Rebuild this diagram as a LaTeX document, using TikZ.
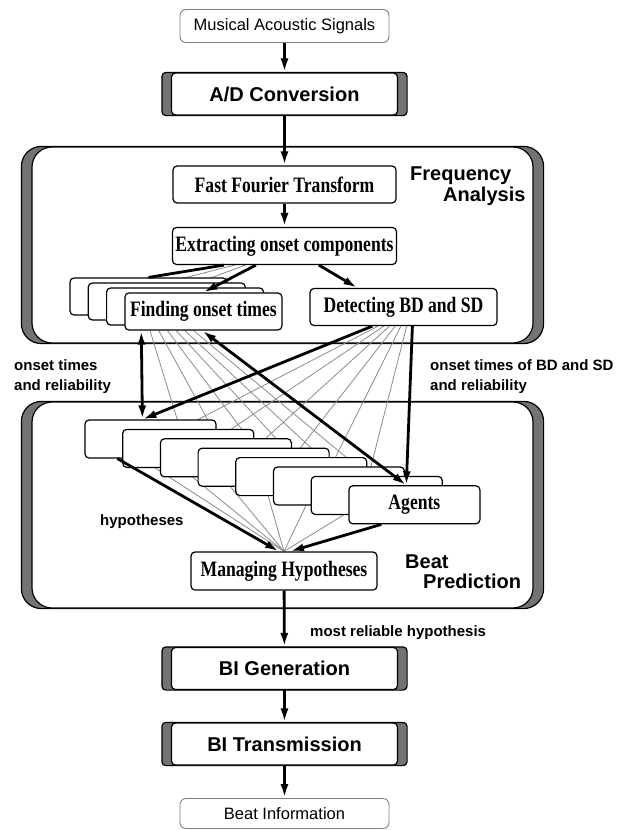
\documentclass[tikz,border=0pt]{standalone}
\usepackage{fontspec}
\setmainfont{Liberation Sans}
\newfontfamily\condserif[FakeStretch=0.8]{Liberation Serif}
\usetikzlibrary{arrows.meta,calc}
\pgfdeclarelayer{bars}
\pgfdeclarelayer{frames}
\pgfdeclarelayer{wires}
\pgfdeclarelayer{top}
\pgfsetlayers{bars,frames,wires,main,top}
\tikzset{
	endbox/.style={draw=black!50, line width=0.9pt, rounded corners=6pt, fill=white, minimum width=209pt, minimum height=33pt, inner sep=0pt, font=\fontsize{16.5}{19}\selectfont},
	procbox/.style={draw, line width=1.2pt, rounded corners=4pt, fill=white, minimum width=226pt, minimum height=42pt, inner sep=0pt, font=\fontsize{20}{24}\selectfont\bfseries},
	taskbox/.style={draw, line width=1.2pt, rounded corners=4pt, fill=white, minimum height=37pt, inner sep=0pt, font=\condserif\bfseries\fontsize{22}{26}\selectfont},
	groupbox/.style={draw, line width=1.2pt, rounded corners=20pt, fill=white, minimum width=501pt, inner sep=0pt},
	greybar/.style={draw, line width=1.2pt, fill=black!55},
	grouptitle/.style={inner sep=0pt, font=\fontsize{20}{24}\selectfont\bfseries},
	flowtag/.style={inner sep=0pt, font=\fontsize{15}{20}\selectfont\bfseries},
	flow/.style={line width=2.8pt},
	wire/.style={draw=black!45, line width=0.8pt}
}
\begin{document}
\begin{tikzpicture}[x=1pt,y=-1pt,>={Latex[length=14pt,width=8pt]}]
		\useasboundingbox (0,0) rectangle (636,830);
		\node at (284.5,26) [endbox] (signal) {Musical Acoustic Signals};
		\node at (284.5,94) [procbox] (ad) {A/D Conversion};
		\begin{pgfonlayer}{frames}
			\node at (282.5,245) [groupbox, minimum height=196pt] (freq) {};
			\node at (282.5,505) [groupbox, minimum height=206pt] (beat) {};
		\end{pgfonlayer}
		\node at (284.5,184.5) [taskbox, minimum width=223pt] (fft) {Fast Fourier Transform};
		\node at (284.5,246) [taskbox, minimum width=224pt] (extract) {Extracting onset components};
		\foreach \k in {0,1,2}
			\node at ({148.5+18.3*\k},{296.5+5*\k}) [taskbox, minimum width=157pt] (f\k) {};
		\node at (203.4,311.5) [taskbox, minimum width=157pt] (f3) {Finding onset times};
		\node at (403.5,307) [taskbox, minimum width=187pt] (detect) {Detecting BD and SD};
		\node[grouptitle, anchor=base west] at (410,180.5) (freqA) {Frequency};
		\node[grouptitle, anchor=base west] at (443,201) (freqB) {Analysis};
		\node[flowtag, anchor=base west] at (14,370) (onsetA) {onset times};
		\node[flowtag, anchor=base west] at (14,390) (onsetB) {and reliability};
		\node[flowtag, anchor=base west] at (430,370) (bdsdA) {onset times of BD and SD};
		\node[flowtag, anchor=base west] at (430,390) (bdsdB) {and reliability};
		\foreach \k in {0,...,6}
			\node at ({150.5+37.7*\k},{439+9.4*\k}) [taskbox, minimum width=131pt, minimum height=38pt] (a\k) {};
		\node at (414.4,504.8) [taskbox, minimum width=131pt, minimum height=38pt] (a7) {Agents};
		\node[flowtag, anchor=base west] at (100,525) (hypo) {hypotheses};
		\node at (284,571) [taskbox, minimum width=186pt, minimum height=38pt] (manage) {Managing Hypotheses};
		\node[grouptitle, anchor=base west] at (405,568) (beatA) {Beat};
		\node[grouptitle, anchor=base west] at (423,588) (beatB) {Prediction};
		\node[flowtag, anchor=base west] at (310,636) (best) {most reliable hypothesis};
		\node at (284.5,668.5) [procbox] (bigen) {BI Generation};
		\node at (284.5,744) [procbox] (bitrans) {BI Transmission};
		\node at (284.5,813.5) [endbox, minimum height=30pt] (info) {Beat Information};
		\begin{pgfonlayer}{bars}
			\foreach \n in {ad,bigen,bitrans}
				\draw[greybar, rounded corners=4pt] ([xshift=-9pt]\n.north west) rectangle ([xshift=9pt]\n.south east);
			\foreach \n in {freq,beat}
				\draw[greybar, rounded corners=20pt] ([xshift=-10pt]\n.north west) rectangle ([xshift=10pt]\n.south east);
		\end{pgfonlayer}
		\draw[flow,->] (signal) -- (ad);
		\draw[flow,->] (ad) -- (fft);
		\draw[flow,->] (fft) -- (extract);
		\draw[flow,->] (manage) -- (bigen);
		\draw[flow,->] (bigen) -- (bitrans);
		\draw[flow,->] (bitrans) -- (info);
		\begin{pgfonlayer}{wires}
			\foreach \k in {1,2}
				\draw[wire] ($(extract.south west)+({52+10.7*\k},0)$) -- (f\k.north);
			\foreach \k in {1,...,6} {
				\draw[wire] ($(f3.south west)+({17+61*\k/7},0)$) -- ($(a\k.north west)+(58,0)$);
				\draw[wire] ($(detect.south west)+({63+40*\k/7},0)$) -- ($(a\k.north west)+(58,0)$);
				\draw[wire] ($(a\k.south west)+(33,0)$) -- (manage.north);
			}
		\end{pgfonlayer}
		\begin{pgfonlayer}{top}
			\draw[flow] ($(extract.south west)+(52,0)$) -- (f0.north);
			\draw[flow,->] ($(extract.south west)+(84,0)$) -- (f3.north);
			\draw[flow,->] ($(extract.south west)+(147,0)$) -- ($(detect.north west)+(48,0)$);
			\draw[flow,<->] ($(f3.south west)+(17,0)$) -- ($(a0.north west)+(58,0)$);
			\draw[flow,<->] ($(f3.south west)+(78,0)$) -- ($(a7.north west)+(58,0)$);
			\draw[flow,->] ($(detect.south west)+(63,0)$) -- ($(a0.north west)+(58,0)$);
			\draw[flow,->] ($(detect.south west)+(103,0)$) -- ($(a7.north west)+(58,0)$);
			\draw[flow,->] ($(a0.south west)+(33,0)$) -- ([xshift=-5pt]manage.north);
			\draw[flow,->] ($(a7.south west)+(33,0)$) -- ([xshift=6pt]manage.north);
		\end{pgfonlayer}
	\end{tikzpicture}
\end{document}
